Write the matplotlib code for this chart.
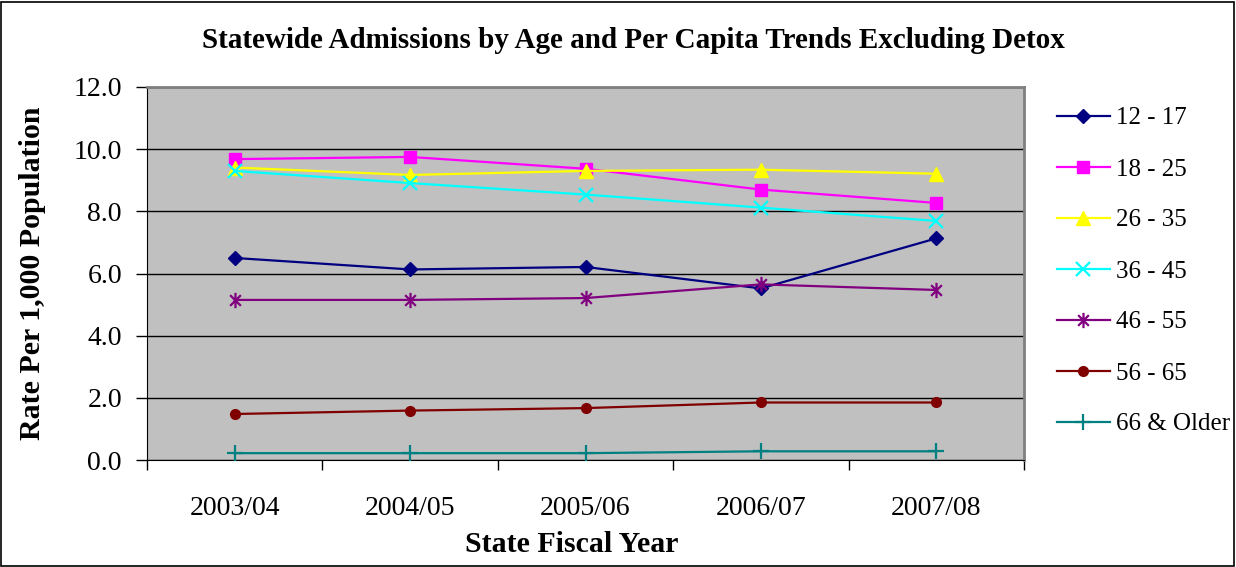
import matplotlib.pyplot as plt
from matplotlib.patches import Rectangle
from matplotlib.path import Path

plt.rcParams['font.family'] = ['Liberation Serif', 'DejaVu Serif']

years = ["2003/04", "2004/05", "2005/06", "2006/07", "2007/08"]
age_groups = ["12 - 17", "18 - 25", "26 - 35", "36 - 45", "46 - 55", "56 - 65", "66 & Older"]

rate_12_17 = [6.50, 6.13, 6.21, 5.52, 7.13]
rate_18_25 = [9.68, 9.75, 9.37, 8.70, 8.27]
rate_26_35 = [9.41, 9.17, 9.30, 9.34, 9.21]
rate_36_45 = [9.30, 8.91, 8.54, 8.12, 7.69]
rate_46_55 = [5.15, 5.15, 5.21, 5.65, 5.47]
rate_56_65 = [1.48, 1.59, 1.67, 1.85, 1.85]
rate_66_up = [0.22, 0.22, 0.22, 0.28, 0.28]

# excel style asterisk: an x with a vertical stroke
star = Path([(-0.7, -0.7), (0.7, 0.7), (-0.7, 0.7), (0.7, -0.7), (0, -1), (0, 1)],
            [Path.MOVETO, Path.LINETO, Path.MOVETO, Path.LINETO, Path.MOVETO, Path.LINETO])

series = [rate_12_17, rate_18_25, rate_26_35, rate_36_45, rate_46_55, rate_56_65, rate_66_up]
colors = ["#000080", "#FF00FF", "#FFFF00", "#00FFFF", "#800080", "#800000", "#008080"]
markers = ["D", "s", "^", "x", star, "o", "+"]
msizes = [7, 8, 10, 10, 11, 7, 12]

W, H = 1236, 567
fig = plt.figure(figsize=(W / 100, H / 100), dpi=100)
fig.patches.append(Rectangle((0.001, 0.002), 0.997, 0.995, transform=fig.transFigure,
                             fill=False, edgecolor="black", linewidth=1.2))

ax = fig.add_axes([147 / W, (H - 460) / H, 877 / W, 373 / H])
ax.set_facecolor("#C0C0C0")

x = list(range(len(years)))
for vals, lab, c, m, ms in zip(series, age_groups, colors, markers, msizes):
    thin = m in ("x", "+") or m is star
    ax.plot(x, vals, color=c, marker=m, markersize=ms, linewidth=1.6,
            markeredgewidth=1.6 if thin else 1, label=lab, zorder=3)

ax.set_xlim(-0.5, 4.5)
ax.set_ylim(0, 12)
yt = [0, 2, 4, 6, 8, 10, 12]
ax.set_yticks(yt)
ax.set_yticklabels([f"{v:.1f}" for v in yt], fontsize=20)
ax.yaxis.grid(True, color="black", linewidth=1)
ax.set_axisbelow(True)

ax.set_xticks(x)
ax.set_xticklabels(years, fontsize=20)
ax.set_xticks([i - 0.5 for i in range(len(years) + 1)], minor=True)
ax.tick_params(axis="x", which="major", length=0, pad=26)
ax.tick_params(axis="x", which="minor", length=7, direction="out", width=1)
ax.tick_params(axis="y", length=8, direction="out", width=1, pad=10)

for s in ["top", "right"]:
    ax.spines[s].set_color("#808080")
    ax.spines[s].set_linewidth(2)
ax.spines["left"].set_color("black")
ax.spines["bottom"].set_color("black")

ax.set_ylabel("Rate Per 1,000 Population", fontsize=21.5, fontweight="bold")
ax.yaxis.set_label_coords((46 - 147) / 877, 0.5)
fig.text(572 / W, 1 - 545 / H, "State Fiscal Year", ha="center", va="center",
         fontsize=21.5, fontweight="bold")
fig.text(633 / W, 1 - 40 / H, "Statewide Admissions by Age and Per Capita Trends Excluding Detox",
         ha="center", va="center", fontsize=21, fontweight="bold")

fig.legend(loc="upper left", bbox_to_anchor=(1057 / W, 1 - 107 / H), frameon=False,
           fontsize=18, labelspacing=1.14, handlelength=2.1, handletextpad=0.25,
           borderaxespad=0, borderpad=0)

fig.savefig("out.png", dpi=100)
